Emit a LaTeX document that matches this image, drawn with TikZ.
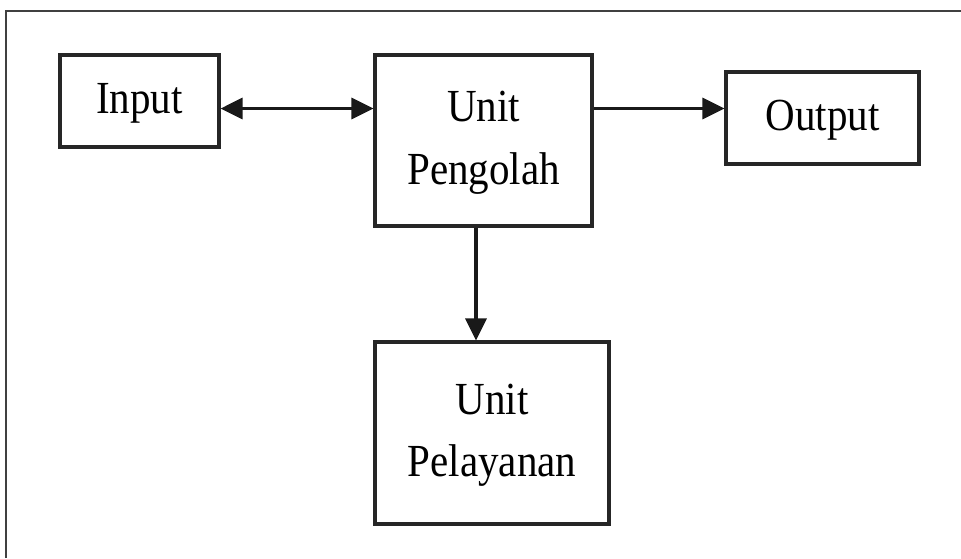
\documentclass[tikz,border=0pt]{standalone}
\usepackage{fontspec}
\usepackage{graphicx}
\setmainfont{Liberation Serif}
\usetikzlibrary{arrows.meta}
\newcommand{\tallt}[1]{\scalebox{1}[1.12]{\begin{tabular}{@{}c@{}}#1\end{tabular}}}
\begin{document}
\begin{tikzpicture}[x=1pt,y=-1pt,
  box/.style={draw=black!85, line width=3.2pt, rectangle, align=center, inner sep=0pt,
    font=\fontsize{41}{56}\selectfont},
  conn/.style={draw=black!90, line width=3.2pt, -{Triangle[length=22pt,width=21pt]}},
  frameline/.style={draw=black!75, line width=2.2pt}]
\useasboundingbox (0,0) rectangle (961,558);
\draw[frameline] (6,558) -- (6,11) -- (961,11);
\node[box, minimum width=159pt, minimum height=92pt] (in) at (139.5,101) {\tallt{Input}};
\node[box, minimum width=217pt, minimum height=171pt] (pen) at (483.5,140.5) {\tallt{Unit\\Pengolah}};
\node[box, minimum width=193pt, minimum height=92pt] (out) at (822.5,118) {\tallt{Output}};
\node[box, minimum width=234pt, minimum height=182pt] (pel) at (492,433) {\tallt{Unit\\Pelayanan}};
\coordinate (ay) at (0,108.5);
\draw[conn, {Triangle[length=22pt,width=21pt]}-{Triangle[length=22pt,width=21pt]}] (in.east |- ay) -- (pen.west |- ay);
\draw[conn] (pen.east |- ay) -- (out.west |- ay);
\coordinate (ax) at (476,0);
\draw[conn] (pen.south -| ax) -- (pel.north -| ax);
\end{tikzpicture}
\end{document}
